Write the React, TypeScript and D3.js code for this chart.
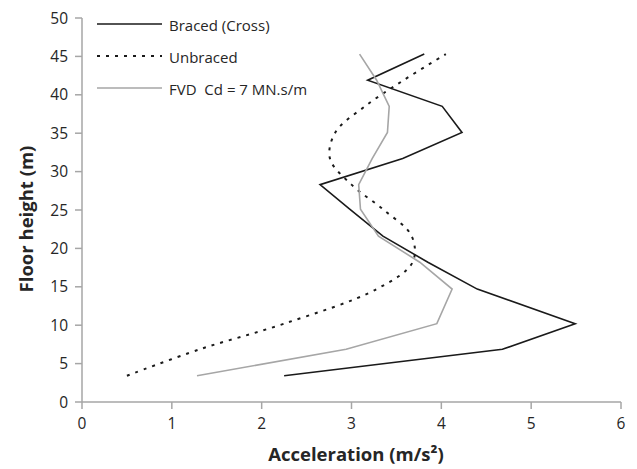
import React, { useRef, useEffect } from "react";
import * as d3 from "d3";

// floor heights (m) where the accelerations were read
const floorHeights = [3.42, 6.86, 10.2, 14.7, 18.2, 21.6, 25.1, 28.3, 31.7, 35.1, 38.5, 41.9, 45.3];
const bracedAcc = [2.25, 4.68, 5.49, 4.4, 3.85, 3.35, 2.98, 2.65, 3.57, 4.23, 4.01, 3.18, 3.81];
const unbracedAcc = [0.5, 1.31, 2.25, 3.28, 3.68, 3.67, 3.35, 3.0, 2.76, 2.82, 3.15, 3.58, 4.05];
const fvdAcc = [1.28, 2.94, 3.95, 4.12, 3.76, 3.3, 3.1, 3.08, 3.23, 3.4, 3.42, 3.28, 3.09];

const seriesNames = ["Braced (Cross)", "Unbraced", "FVD  Cd = 7 MN.s/m"];
const xTicks = [0, 1, 2, 3, 4, 5, 6];
const yTicks = [0, 5, 10, 15, 20, 25, 30, 35, 40, 45, 50];

const App = () => {
  const chartRef = useRef<SVGSVGElement | null>(null);

  useEffect(() => {
    const svg = d3.select(chartRef.current);
    svg.selectAll("*").remove();

    const font = "'Open Sans', sans-serif";
    const axisColor = "#a6a6a6";
    const textColor = "#262626";

    const x = d3.scaleLinear().domain([0, 6]).range([82, 621]);
    const y = d3.scaleLinear().domain([0, 50]).range([402, 18]);

    // axes
    svg
      .append("line")
      .attr("x1", x(0))
      .attr("x2", x(0))
      .attr("y1", y(0))
      .attr("y2", y(50))
      .attr("stroke", axisColor)
      .attr("stroke-width", 1.5);
    svg
      .append("line")
      .attr("x1", x(0))
      .attr("x2", x(6))
      .attr("y1", y(0))
      .attr("y2", y(0))
      .attr("stroke", axisColor)
      .attr("stroke-width", 1.5);

    svg
      .selectAll(".ytick")
      .data(yTicks)
      .enter()
      .append("line")
      .attr("class", "ytick")
      .attr("x1", x(0) - 7)
      .attr("x2", x(0))
      .attr("y1", (d) => y(d))
      .attr("y2", (d) => y(d))
      .attr("stroke", axisColor)
      .attr("stroke-width", 1.5);

    svg
      .selectAll(".xtick")
      .data(xTicks)
      .enter()
      .append("line")
      .attr("class", "xtick")
      .attr("x1", (d) => x(d))
      .attr("x2", (d) => x(d))
      .attr("y1", y(0))
      .attr("y2", y(0) + 7)
      .attr("stroke", axisColor)
      .attr("stroke-width", 1.5);

    svg
      .selectAll(".ylabel")
      .data(yTicks)
      .enter()
      .append("text")
      .attr("class", "ylabel")
      .attr("x", 68)
      .attr("y", (d) => y(d) + 5.5)
      .attr("text-anchor", "end")
      .attr("font-family", font)
      .attr("font-size", "15.5px")
      .attr("fill", textColor)
      .text((d) => d);

    svg
      .selectAll(".xlabel")
      .data(xTicks)
      .enter()
      .append("text")
      .attr("class", "xlabel")
      .attr("x", (d) => x(d))
      .attr("y", 429)
      .attr("text-anchor", "middle")
      .attr("font-family", font)
      .attr("font-size", "15.5px")
      .attr("fill", textColor)
      .text((d) => d);

    // axis titles
    svg
      .append("text")
      .attr("x", 356)
      .attr("y", 461)
      .attr("text-anchor", "middle")
      .attr("font-family", font)
      .attr("font-size", "18.5px")
      .attr("font-weight", "bold")
      .attr("fill", textColor)
      .text("Acceleration (m/s²)");

    svg
      .append("text")
      .attr("transform", "translate(33,219) rotate(-90)")
      .attr("text-anchor", "middle")
      .attr("font-family", font)
      .attr("font-size", "18.5px")
      .attr("font-weight", "bold")
      .attr("fill", textColor)
      .text("Floor height (m)");

    // series
    const series = [
      { values: bracedAcc, color: "#1a1a1a", dash: null, curve: d3.curveLinear },
      { values: unbracedAcc, color: "#1a1a1a", dash: "3 6", curve: d3.curveCatmullRom },
      { values: fvdAcc, color: "#a6a6a6", dash: null, curve: d3.curveLinear },
    ];

    series.forEach((s, i) => {
      const line = d3
        .line<number>()
        .x((d) => x(d))
        .y((d, j) => y(floorHeights[j]))
        .curve(s.curve);
      svg
        .append("path")
        .attr("d", line(s.values))
        .attr("fill", "none")
        .attr("stroke", s.color)
        .attr("stroke-width", s.dash ? 2 : 1.6)
        .attr("stroke-dasharray", s.dash);

      // legend
      const ly = 24 + i * 32;
      svg
        .append("line")
        .attr("x1", 97)
        .attr("x2", 162)
        .attr("y1", ly)
        .attr("y2", ly)
        .attr("stroke", s.color)
        .attr("stroke-width", s.dash ? 2 : 1.6)
        .attr("stroke-dasharray", s.dash);
      svg
        .append("text")
        .attr("x", 169)
        .attr("y", ly + 6.5)
        .attr("font-family", font)
        .attr("font-size", "15px")
        .attr("fill", textColor)
        .style("white-space", "pre")
        .text(seriesNames[i]);
    });
  }, []);

  return (
    <svg
      ref={chartRef}
      width={637}
      height={469}
      style={{ position: "absolute", left: 0, top: 0, background: "#fff" }}
    />
  );
};

export default App;
